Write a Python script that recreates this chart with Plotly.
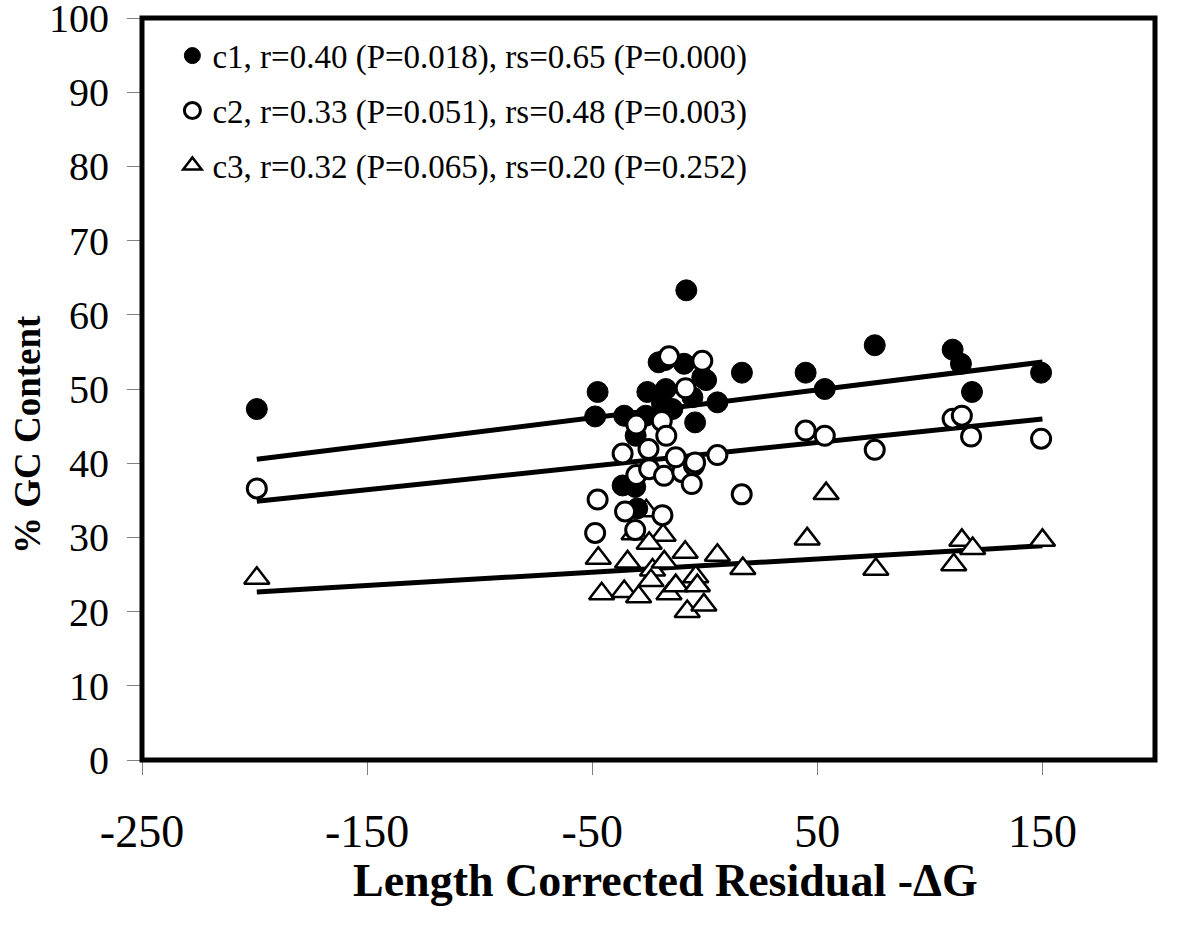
import plotly.graph_objects as go

# ---- data ----
c1_x = [-199, -47.6, -48.7, -35.8, -25.5, -26.2, -17.3, -17.6, -20.5, -9.2, -8.2, -1.1, 0.6,
        -5.5, 5.6, -4.3, -14.4, -19.0, -30.7, -36.5, -30.9, -30.0, 16.5, 44.8, 53.3, 75.5,
        110.1, 113.8, 118.7, 149.4]
c1_y = [47.3, 49.6, 46.3, 46.4, 49.6, 46.4, 50.0, 53.9, 53.6, 53.4, 63.3, 51.6, 51.2,
        48.9, 48.2, 45.5, 47.3, 48.0, 43.7, 37.0, 36.8, 33.9, 52.2, 52.2, 50.0, 55.9,
        55.3, 53.4, 49.6, 52.2]

c2_x = [-199, -47.6, -48.7, -35.4, -18.8, 16.4, -30.9, -30.4, -24.7, -18.1, -10.0, -4.8,
        -5.8, 5.6, -36.5, -25.0, -12.9, -4.3, -30.4, -19.1, -17.1, -8.5, -15.9, -1.1,
        44.8, 53.3, 75.5, 110.1, 114.2, 118.3, 149.4]
c2_y = [36.6, 35.1, 30.6, 33.5, 33.0, 35.8, 31.0, 38.4, 39.2, 38.3, 38.8, 39.7,
        37.2, 41.1, 41.3, 41.9, 40.8, 40.1, 45.2, 45.7, 43.7, 50.1, 54.4, 53.8,
        44.4, 43.7, 41.8, 46.0, 46.4, 43.6, 43.3]

c3_x = [-199, -47.3, -45.8, -26.0, -31.4, -18.5, -24.7, -34.3, -35.8, -29.4, -23.2, -23.9,
        -18.0, -15.9, -12.9, -8.7, -4.0, -3.3, 5.6, 16.9, -7.8, -0.4, 53.9, 45.5,
        114.2, 119.0, 150.0, 76.0, 110.6]
c3_y = [24.5, 27.2, 22.4, 33.6, 30.5, 30.3, 29.2, 26.7, 22.7, 22.0, 25.6, 24.2,
        26.7, 22.4, 23.5, 28.0, 24.7, 23.5, 27.6, 25.8, 20.0, 20.9, 35.9, 29.8,
        29.6, 28.5, 29.6, 25.7, 26.3]

series_names = ["c1, r=0.40 (P=0.018), rs=0.65 (P=0.000)",
                "c2, r=0.33 (P=0.051), rs=0.48 (P=0.003)",
                "c3, r=0.32 (P=0.065), rs=0.20 (P=0.252)"]

# linear trend lines (intercept, slope)
trend_intercept = [48.0, 41.2, 26.2]
trend_slope = [0.0375, 0.0318, 0.0178]
trend_x = [-199, 150]

x_ticks = [-250, -150, -50, 50, 150]
y_ticks = [0, 10, 20, 30, 40, 50, 60, 70, 80, 90, 100]

FONT = "Liberation Serif, Times New Roman, serif"

fig = go.Figure()

series = [(c1_x, c1_y), (c2_x, c2_y), (c3_x, c3_y)]
markers = [
    dict(symbol="circle", size=21, color="black", line=dict(color="black", width=1)),
    dict(symbol="circle", size=19, color="white", line=dict(color="black", width=3)),
    dict(symbol="triangle-up", size=22, color="white", line=dict(color="black", width=2.5)),
]

for i in range(3):
    ty = [trend_intercept[i] + trend_slope[i] * xv for xv in trend_x]
    fig.add_trace(go.Scatter(x=trend_x, y=ty, mode="lines",
                             line=dict(color="black", width=5),
                             showlegend=False, hoverinfo="skip"))

for i in [2, 0, 1]:
    xs, ys = series[i]
    fig.add_trace(go.Scatter(x=xs, y=ys, mode="markers", name=series_names[i],
                             marker=markers[i], legendgroup=f"g{i}",
                             legendrank=i + 1))

fig.update_layout(
    width=1200, height=933,
    margin=dict(l=142, r=45, t=18, b=173, autoexpand=False),
    paper_bgcolor="white", plot_bgcolor="white",
    font=dict(family=FONT, color="black"),
    showlegend=True,
    legend=dict(x=0.03, y=0.987, xanchor="left", yanchor="top",
                bgcolor="rgba(0,0,0,0)", font=dict(size=33, family=FONT),
                tracegroupgap=9, itemsizing="trace"),
    xaxis=dict(range=[-250, 200], tickvals=x_ticks, ticktext=[str(v) for v in x_ticks],
               showgrid=False, zeroline=False, showline=False, automargin=False,
               ticks="outside", ticklen=14, tickwidth=1, tickcolor="#808080",
               tickfont=dict(size=46, family=FONT), ticklabelstandoff=17,
               ticklabeloverflow="allow"),
    yaxis=dict(range=[0, 100], tickvals=y_ticks, ticktext=[str(v) for v in y_ticks],
               showgrid=False, zeroline=False, showline=False, automargin=False,
               ticks="outside", ticklen=14, tickwidth=1, tickcolor="#808080",
               tickfont=dict(size=40, family=FONT), ticklabelstandoff=10,
               ticklabeloverflow="allow"),
    shapes=[dict(type="rect", xref="paper", yref="paper", x0=0, y0=0, x1=1, y1=1,
                 line=dict(color="black", width=5), layer="above")],
    annotations=[
        dict(text="<b>Length Corrected Residual -ΔG</b>", xref="paper", yref="paper",
             x=(665 - 142) / 1013, y=-(880 - 760) / 742, xanchor="center", yanchor="middle",
             showarrow=False, font=dict(size=46, family=FONT)),
        dict(text="<b>% GC Content</b>", xref="paper", yref="paper",
             x=-(142 - 27) / 1013, y=(760 - 435) / 742, xanchor="center", yanchor="middle",
             textangle=-90, showarrow=False, font=dict(size=37, family=FONT)),
    ],
)

fig.write_html("out.html", config={"displayModeBar": False},
               post_script="document.body.style.margin='0';document.body.style.overflow='hidden';")
